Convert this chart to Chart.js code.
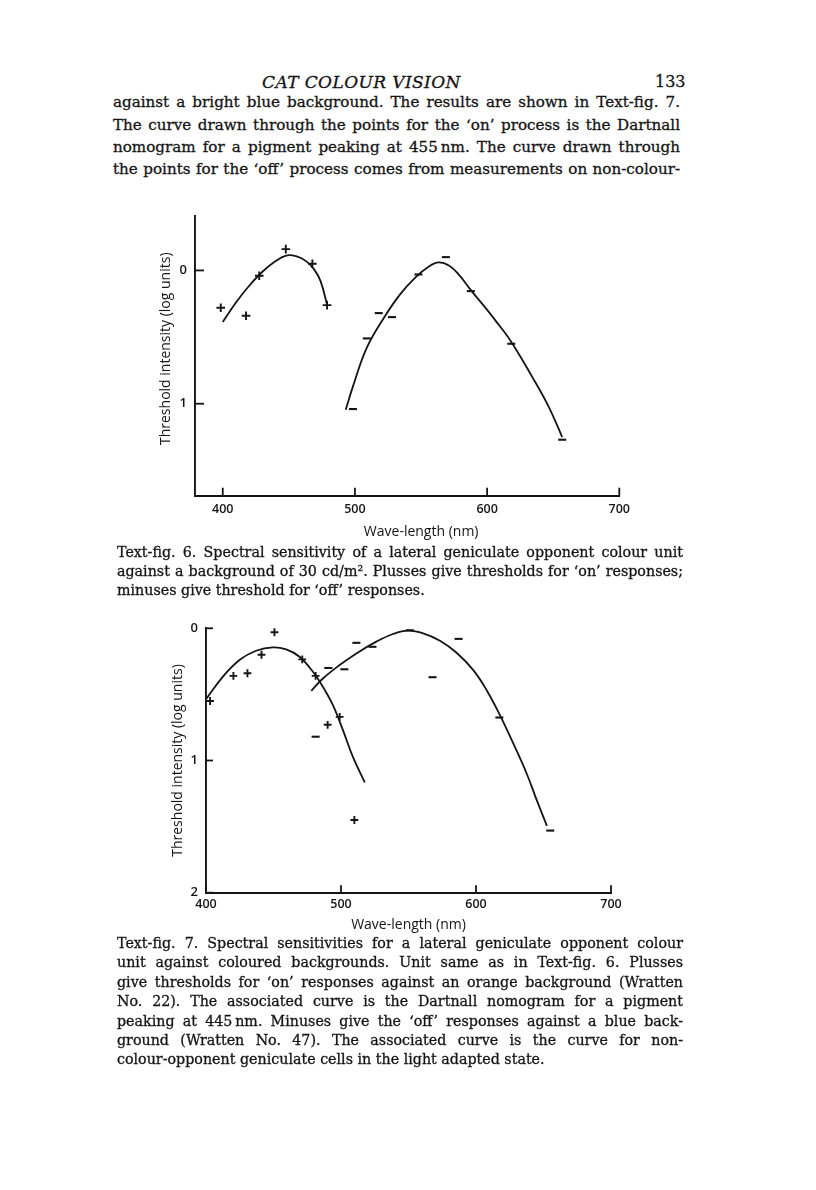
<!DOCTYPE html>
<html>
<head>
<meta charset="utf-8">
<title>Cat colour vision</title>
<script src="https://cdn.jsdelivr.net/npm/chart.js@4.4.0/dist/chart.umd.min.js"></script>
<style>
body { margin: 0; background: #fff; }
#page { position: relative; width: 816px; height: 1190px; overflow: hidden; color: #141414; font-family: 'DejaVu Serif', serif; -webkit-text-stroke: 0.3px #141414; }
.ln { position: absolute; white-space: nowrap; }
.body { left: 113px; width: 567px; font-size: 15px; line-height: 22px; }
.cap { left: 117px; width: 566px; font-size: 14px; line-height: 19px; }
.head { font-style: italic; font-size: 17px; line-height: 22px; letter-spacing: 0.4px; }
canvas { position: absolute; }
</style>
</head>
<body>
<div id="page">
  <div class="ln head" style="top:71px; left:262px">CAT COLOUR VISION</div>
  <div class="ln" style="top:71px; left:655px; font-size:16px; line-height:22px">133</div>

  <div class="ln body j" style="top:91px"><span>against a bright blue background. The results are shown in Text-fig. 7.</span></div>
  <div class="ln body j" style="top:114px"><span>The curve drawn through the points for the ‘on’ process is the Dartnall</span></div>
  <div class="ln body j" style="top:136px"><span>nomogram for a pigment peaking at 455&#8201;nm. The curve drawn through</span></div>
  <div class="ln body j" style="top:158px"><span>the points for the ‘off’ process comes from measurements on non-colour-</span></div>

  <canvas id="fig6" width="500" height="345" style="left:140px; top:200px"></canvas>

  <div class="ln cap j" style="top:543px"><span>Text-fig. 6. Spectral sensitivity of a lateral geniculate opponent colour unit</span></div>
  <div class="ln cap j" style="top:562px"><span>against a background of 30 cd/m². Plusses give thresholds for ‘on’ responses;</span></div>
  <div class="ln cap" style="top:580.5px"><span>minuses give threshold for ‘off’ responses.</span></div>

  <canvas id="fig7" width="500" height="330" style="left:140px; top:610px"></canvas>

  <div class="ln cap j" style="top:934px"><span>Text-fig. 7. Spectral sensitivities for a lateral geniculate opponent colour</span></div>
  <div class="ln cap j" style="top:953.4px"><span>unit against coloured backgrounds. Unit same as in Text-fig. 6. Plusses</span></div>
  <div class="ln cap j" style="top:972.8px"><span>give thresholds for ‘on’ responses against an orange background (Wratten</span></div>
  <div class="ln cap j" style="top:992.2px"><span>No. 22). The associated curve is the Dartnall nomogram for a pigment</span></div>
  <div class="ln cap j" style="top:1011.6px"><span>peaking at 445&#8201;nm. Minuses give the ‘off’ responses against a blue back-</span></div>
  <div class="ln cap j" style="top:1031px"><span>ground (Wratten No. 47). The associated curve is the curve for non-</span></div>
  <div class="ln cap" style="top:1050.4px"><span>colour-opponent geniculate cells in the light adapted state.</span></div>
</div>

<script>
// Text-fig. 6 : plusses = 'on', minuses = 'off'
var fig6OnX = [398.5, 417.6, 427.6, 447.7, 467.8, 478.9]
var fig6OnY = [0.28, 0.34, 0.04, -0.16, -0.05, 0.26]
var fig6OffX = [498.5, 509, 518, 528, 548, 568.8, 587.7, 618.3, 656.8]
var fig6OffY = [1.04, 0.51, 0.32, 0.35, 0.03, -0.10, 0.155, 0.55, 1.27]
// curves
var fig6OnCurveX = [400, 410, 420, 430, 440, 448, 456, 463, 469, 474, 479]
var fig6OnCurveY = [0.386, 0.24, 0.115, 0.01, -0.07, -0.112, -0.105, -0.07, -0.01, 0.08, 0.26]
var fig6OffCurveX = [493, 498.5, 508.5, 521, 533.7, 546, 556, 563.3, 571.4, 578.9, 587.7, 596.5, 606.5, 618.3, 634.2, 646.7, 656.8]
var fig6OffCurveY = [1.045, 0.87, 0.59, 0.37, 0.185, 0.05, -0.03, -0.06, -0.035, 0.035, 0.148, 0.253, 0.378, 0.536, 0.80, 1.025, 1.25]
var fig6XTicks = [400, 500, 600, 700]
var fig6YTicks = [0, 1]

// Text-fig. 7
var fig7OnX = [403, 420.3, 430.7, 441.1, 450.7, 471.3, 481.2, 490.1, 499, 509.9]
var fig7OnY = [0.55, 0.36, 0.34, 0.20, 0.03, 0.235, 0.36, 0.73, 0.67, 1.45]
var fig7OffX = [481.2, 490.6, 502.5, 511.4, 523.3, 551, 567.8, 587.1, 617.3, 655]
var fig7OffY = [0.82, 0.30, 0.31, 0.11, 0.14, 0.015, 0.37, 0.08, 0.675, 1.53]
var fig7OnCurveX = [400.5, 412.4, 424.8, 437.1, 449.5, 459.4, 469.3, 479.2, 486.6, 494, 501.5, 508.9, 517.6]
var fig7OnCurveY = [0.53, 0.367, 0.24, 0.17, 0.144, 0.16, 0.215, 0.329, 0.443, 0.582, 0.772, 0.975, 1.165]
var fig7OffCurveX = [478, 486.6, 499, 511.4, 526.2, 538.6, 549.8, 560.9, 573.3, 585.6, 598, 607.9, 617.8, 627.7, 637.6, 645, 652.5]
var fig7OffCurveY = [0.473, 0.38, 0.278, 0.19, 0.101, 0.043, 0.018, 0.038, 0.094, 0.185, 0.316, 0.468, 0.658, 0.873, 1.1, 1.3, 1.494]
var fig7XTicks = [400, 500, 600, 700]
var fig7YTicks = [0, 1, 2]

var ink = '#141414'
Chart.defaults.font.family = "'Open Sans', 'DejaVu Sans', sans-serif"
Chart.defaults.color = ink
Chart.defaults.animation = false

function pts(xs, ys) {
    return xs.map(function (x, i) { return { x: x, y: ys[i] } })
}

// ticks in the figures point inwards, so draw them ourselves from the scales
var inwardTicks = {
    id: 'inwardTicks',
    afterDatasetsDraw: function (chart, args, opts) {
        var ctx = chart.ctx
        var a = chart.chartArea
        var sx = chart.scales.x, sy = chart.scales.y
        ctx.save()
        ctx.strokeStyle = ink
        ctx.lineWidth = 1.8
        sx.ticks.forEach(function (t) {
            var px = sx.getPixelForValue(t.value)
            ctx.beginPath(); ctx.moveTo(px, a.bottom); ctx.lineTo(px, a.bottom - opts.xLen); ctx.stroke()
        })
        sy.ticks.forEach(function (t) {
            var py = sy.getPixelForValue(t.value)
            ctx.beginPath(); ctx.moveTo(a.left, py); ctx.lineTo(a.left + opts.yLen, py); ctx.stroke()
        })
        ctx.restore()
    }
}

function makeChart(id, o) {
    var curve = { showLine: true, pointRadius: 0, borderColor: ink, borderWidth: 1.8, tension: 0.4, clip: false }
    return new Chart(document.getElementById(id), {
        type: 'scatter',
        data: {
            datasets: [
                Object.assign({ label: 'on curve', data: pts(o.onCurveX, o.onCurveY) }, curve),
                Object.assign({ label: 'off curve', data: pts(o.offCurveX, o.offCurveY) }, curve),
                { label: 'on', data: pts(o.onX, o.onY), pointStyle: 'cross', pointRadius: o.plusR,
                  pointBorderColor: ink, pointBorderWidth: 1.9, clip: false },
                { label: 'off', data: pts(o.offX, o.offY), pointStyle: 'line', pointRadius: 4,
                  pointBorderColor: ink, pointBorderWidth: 2.1, clip: false }
            ]
        },
        options: {
            responsive: false,
            events: [],
            layout: { padding: o.pad },
            plugins: { legend: { display: false }, tooltip: { enabled: false }, inwardTicks: { xLen: o.xLen, yLen: o.yLen } },
            scales: {
                x: {
                    type: 'linear', min: o.xMin, max: 700,
                    afterBuildTicks: function (s) { s.ticks = o.xTicks.map(function (v) { return { value: v } }) },
                    afterFit: function (s) { s.height = o.xH },
                    grid: { drawOnChartArea: false, drawTicks: false },
                    border: { color: ink, width: 1.9 },
                    ticks: { padding: o.xTickPad, font: { size: 12.5, weight: '600' } },
                    title: { display: true, text: o.xTitle, font: { size: 14, weight: '500' }, padding: { top: 0, bottom: o.xTitlePad } }
                },
                y: {
                    type: 'linear', min: o.yMin, max: o.yMax, reverse: true,
                    afterBuildTicks: function (s) { s.ticks = o.yTicks.map(function (v) { return { value: v } }) },
                    afterFit: function (s) { s.width = o.yW },
                    grid: { drawOnChartArea: false, drawTicks: false },
                    border: { color: ink, width: 1.9 },
                    ticks: { padding: 8, font: { size: 13, weight: '600' } },
                    title: { display: true, text: o.yTitle, font: { size: 14, weight: '500' }, padding: { top: o.yTitlePad, bottom: 0 } }
                }
            }
        },
        plugins: [inwardTicks]
    })
}

makeChart('fig6', {
    onX: fig6OnX, onY: fig6OnY, offX: fig6OffX, offY: fig6OffY,
    onCurveX: fig6OnCurveX, onCurveY: fig6OnCurveY, offCurveX: fig6OffCurveX, offCurveY: fig6OffCurveY,
    xTicks: fig6XTicks, yTicks: fig6YTicks,
    xMin: 379, yMin: -0.41, yMax: 1.69,
    pad: { top: 15, right: 20.7, bottom: 0, left: 0 },
    xH: 49.3, yW: 55, xTickPad: 6, xTitlePad: 4.5, yTitlePad: 17.5,
    xLen: 8, yLen: 9, plusR: 4.3,
    xTitle: '\u2003\u2003Wave-length (nm)', yTitle: '\u2003Threshold intensity (log units)'
})

makeChart('fig7', {
    onX: fig7OnX, onY: fig7OnY, offX: fig7OffX, offY: fig7OffY,
    onCurveX: fig7OnCurveX, onCurveY: fig7OnCurveY, offCurveX: fig7OffCurveX, offCurveY: fig7OffCurveY,
    xTicks: fig7XTicks, yTicks: fig7YTicks,
    xMin: 400, yMin: 0, yMax: 2,
    pad: { top: 18.3, right: 29, bottom: 0, left: 0 },
    xH: 47.3, yW: 66, xTickPad: 4.5, xTitlePad: 6.5, yTitlePad: 29.5,
    xLen: 7.5, yLen: 7, plusR: 3.9,
    xTitle: 'Wave-length (nm)', yTitle: 'Threshold intensity (log units)'
})

// grow the type so the longest set line nearly fills the measure, then justify
function fitGroup(sel) {
    var lines = Array.prototype.slice.call(document.querySelectorAll(sel))
    var size = parseFloat(getComputedStyle(lines[0]).fontSize)
    var ratio = 10
    lines.forEach(function (el) {
        if (!el.classList.contains('j')) return
        var w = el.firstElementChild.getBoundingClientRect().width
        ratio = Math.min(ratio, el.clientWidth / w)
    })
    lines.forEach(function (el) { el.style.fontSize = (size * ratio * 0.99) + 'px' })
}
fitGroup('.body')
fitGroup('.cap')

document.querySelectorAll('.j').forEach(function (el) {
    var span = el.firstElementChild
    var gap = el.clientWidth - span.getBoundingClientRect().width
    var spaces = (span.textContent.match(/ /g) || []).length
    if (spaces) span.style.wordSpacing = (gap / spaces) + 'px'
})
</script>
</body>
</html>
